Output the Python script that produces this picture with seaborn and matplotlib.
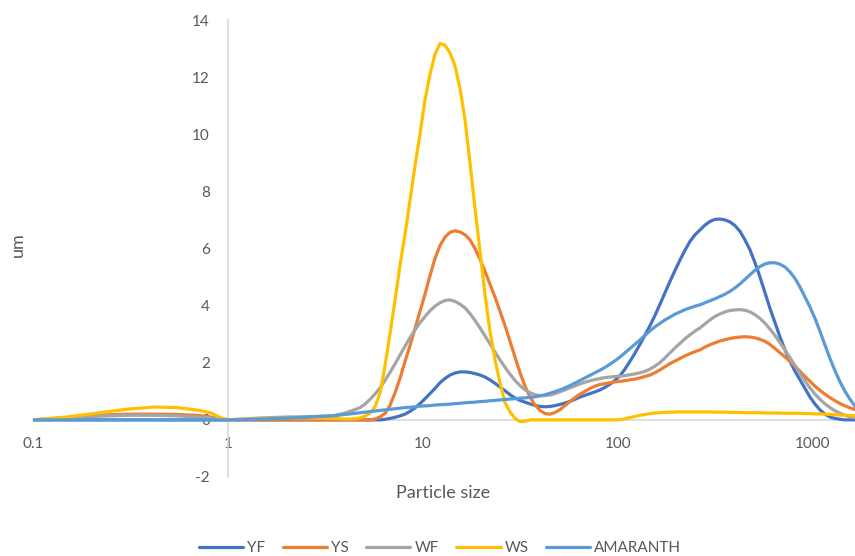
import matplotlib
matplotlib.use("Agg")
import matplotlib.pyplot as plt
import matplotlib.ticker as mticker
import seaborn as sns
import pandas as pd
from matplotlib.lines import Line2D

# ---- data ----
size = [0.1, 0.149, 0.221, 0.3, 0.42, 0.55, 0.718, 0.81, 0.93, 1.0, 1.5, 2.0, 2.5, 3.0, 3.5,
        3.75, 3.98, 4.22, 4.48, 4.75, 5.04, 5.35, 5.67, 6.02, 6.39, 6.77, 7.19, 7.62, 8.09,
        8.58, 9.10, 9.65, 10.24, 10.86, 11.52, 12.22, 12.97, 13.76, 14.59, 15.48, 16.43,
        17.42, 18.48, 19.61, 20.79, 22.06, 23.40, 24.83, 26.34, 27.94, 29.64, 31.44, 33.36,
        35.38, 37.54, 39.81, 42.23, 44.80, 47.53, 50.42, 53.49, 56.74, 60.19, 63.86, 67.74,
        71.86, 76.23, 80.87,
        85.8, 91.0, 96.5, 102.4, 108.6, 115.2, 122.3, 129.7, 137.6, 145.9, 154.8, 164.2,
        174.2, 184.8, 196.0, 208.0, 220.6, 234.0, 248.3,
        263.4, 279.3, 296.4, 314.4, 333.6, 353.8, 375.4, 398.1, 422.3, 448.0, 475.3, 504.2,
        534.9, 567.4, 601.9, 638.6, 677.4, 718.6, 762.3, 808.7, 857.9, 910.0, 965.2, 1024,
        1086, 1152, 1222, 1297, 1376, 1459, 1548, 1642]

yf = [0] * 15 + [0] * 8 + [
    0, 0.02, 0.05, 0.09, 0.14, 0.2, 0.3, 0.42, 0.57, 0.74, 0.92, 1.1, 1.3, 1.45, 1.57,
    1.64, 1.68, 1.68, 1.66, 1.62, 1.57, 1.5, 1.4, 1.28, 1.15, 1.02, 0.88, 0.77, 0.68,
    0.62, 0.56, 0.51, 0.47, 0.46, 0.47, 0.5, 0.54, 0.59, 0.65, 0.72, 0.8, 0.86, 0.92,
    0.98, 1.05,
    1.14, 1.25, 1.38, 1.55, 1.78, 2.05, 2.34, 2.65, 2.97, 3.3, 3.66, 4.05, 4.45, 4.85,
    5.23, 5.6, 5.94, 6.25, 6.48,
    6.65, 6.82, 6.95, 7.02, 7.03, 7.0, 6.93, 6.8, 6.6, 6.3, 5.95, 5.5, 5.0, 4.45, 3.9,
    3.4, 2.9, 2.45, 2.05, 1.7, 1.4, 1.1, 0.8, 0.55, 0.35, 0.2, 0.1, 0.05, 0.02, 0, 0, 0]

ys = [0, 0.08, 0.17, 0.2, 0.2, 0.19, 0.15, 0.1, 0.04, 0, 0, 0, 0, 0, 0] + [0] * 7 + [
    0.03, 0.1, 0.23, 0.5, 0.95, 1.45, 2.05, 2.6, 3.2, 3.8, 4.4, 5.05, 5.65, 6.1, 6.4,
    6.57, 6.62, 6.58, 6.48, 6.3, 6.0, 5.62, 5.2, 4.75, 4.3, 3.8, 3.3, 2.75, 2.2, 1.65,
    1.18, 0.8, 0.52, 0.33, 0.22, 0.2, 0.26, 0.36, 0.5, 0.64, 0.78, 0.9, 1.0, 1.1, 1.18,
    1.24,
    1.27, 1.3, 1.33, 1.35, 1.37, 1.4, 1.43, 1.47, 1.52, 1.57, 1.65, 1.75, 1.86, 1.97,
    2.06, 2.15, 2.24, 2.32, 2.39,
    2.45, 2.55, 2.63, 2.7, 2.76, 2.81, 2.85, 2.88, 2.9, 2.91, 2.9, 2.87, 2.82, 2.75, 2.64,
    2.5, 2.35, 2.2, 2.05, 1.88, 1.7, 1.52, 1.35, 1.18, 1.03, 0.9, 0.78, 0.67, 0.57, 0.49,
    0.42, 0.36]

wf = [0, 0.07, 0.13, 0.16, 0.16, 0.14, 0.1, 0.07, 0.03, 0, 0.07, 0.1, 0.11, 0.13, 0.15,
      0.2, 0.24, 0.3, 0.36, 0.43, 0.55, 0.72, 0.9, 1.12, 1.38,
      1.66, 1.96, 2.27, 2.58, 2.88, 3.15, 3.4, 3.62, 3.82, 3.98,
      4.1, 4.18, 4.2, 4.15, 4.05, 3.92, 3.72, 3.48, 3.22, 2.94,
      2.66, 2.38, 2.1, 1.84, 1.6, 1.38, 1.2, 1.05, 0.95, 0.88,
      0.85, 0.85, 0.87, 0.92, 0.98, 1.05, 1.12, 1.19, 1.26, 1.32,
      1.37, 1.41, 1.45,
      1.48, 1.5, 1.52, 1.53, 1.55, 1.58, 1.61, 1.65, 1.7, 1.78, 1.88, 2.01, 2.17, 2.35,
      2.52, 2.68, 2.84, 2.98, 3.11,
      3.22, 3.36, 3.5, 3.62, 3.71, 3.78, 3.83, 3.85, 3.86, 3.84, 3.78, 3.68, 3.55, 3.38,
      3.18, 2.95, 2.7, 2.45, 2.18, 1.9, 1.62, 1.36, 1.12, 0.9, 0.72, 0.56, 0.43, 0.32,
      0.23, 0.16, 0.11, 0.08]

ws = [0, 0.1, 0.25, 0.37, 0.45, 0.43, 0.33, 0.25, 0.06, 0, 0.05, 0.06, 0.07, 0.06, 0.05,
      0.04, 0.03, 0.03, 0.04, 0.07, 0.13, 0.24, 0.45, 0.94, 1.9,
      3.0, 4.2, 5.4, 6.5, 7.7, 8.9, 10.0, 11.2, 12.1, 12.8,
      13.18, 13.12, 12.85, 12.4, 11.6, 10.5, 9.0, 7.4, 5.9, 4.4,
      3.1, 2.1, 1.3, 0.6, 0.28, 0.05, -0.06, -0.05, 0, 0,
      0, 0, 0, 0, 0, 0, 0, 0, 0, 0,
      0, 0, 0,
      0, 0, 0, 0.01, 0.04, 0.08, 0.12, 0.16, 0.19, 0.22, 0.24, 0.25, 0.26, 0.27,
      0.275, 0.28, 0.28, 0.28, 0.28,
      0.28, 0.28, 0.28, 0.27, 0.27, 0.27, 0.26, 0.26, 0.26, 0.25, 0.25, 0.25, 0.25, 0.24,
      0.24, 0.24, 0.24, 0.23, 0.23, 0.23, 0.23, 0.22, 0.22, 0.21, 0.21, 0.2, 0.19, 0.18,
      0.17, 0.16, 0.15, 0.14]

amaranth = [0, 0, 0, 0, 0, 0, 0, 0, 0, 0, 0.03, 0.06, 0.09, 0.12, 0.14,
            0.17, 0.19, 0.21, 0.23, 0.25, 0.27, 0.29, 0.31, 0.33, 0.35,
            0.37, 0.39, 0.41, 0.43, 0.44, 0.46, 0.48, 0.49, 0.5, 0.52,
            0.53, 0.54, 0.55, 0.57, 0.58, 0.6, 0.61, 0.62, 0.64, 0.65,
            0.67, 0.68, 0.7, 0.71, 0.73, 0.74, 0.76, 0.77, 0.79, 0.81,
            0.84, 0.88, 0.93, 0.99, 1.05, 1.12, 1.2, 1.29, 1.38, 1.47,
            1.56, 1.65, 1.74,
            1.84, 1.95, 2.07, 2.2, 2.35, 2.5, 2.65, 2.8, 2.96, 3.12, 3.26, 3.38, 3.5, 3.6,
            3.7, 3.78, 3.86, 3.92, 3.98,
            4.03, 4.1, 4.17, 4.24, 4.32, 4.4, 4.5, 4.62, 4.76, 4.92, 5.08, 5.24, 5.37, 5.46,
            5.5, 5.5, 5.45, 5.35, 5.18, 4.95, 4.65, 4.3, 3.95, 3.55, 3.1, 2.62, 2.15, 1.72,
            1.33, 1.0, 0.72, 0.48]

series_names = ["YF", "YS", "WF", "WS", "AMARANTH"]
series_colors = ["#4472C4", "#ED7D31", "#A5A5A5", "#FFC000", "#5B9BD5"]
x_ticks = [0.1, 1, 10, 100, 1000]
x_tick_labels = ["0.1", "1", "10", "100", "1000"]
y_ticks = [-2, 0, 2, 4, 6, 8, 10, 12, 14]

frames = []
for name, vals in zip(series_names, [yf, ys, wf, ws, amaranth]):
    frames.append(pd.DataFrame({"size": size, "value": vals, "series": name}))
df = pd.concat(frames, ignore_index=True)

sns.set_theme(style="white")
plt.rcParams["font.family"] = ["Lato", "DejaVu Sans"]
text_color = "#595959"
axis_color = "#D9D9D9"

fig = plt.figure(figsize=(8.55, 5.56), dpi=100)
ax = fig.add_axes([33 / 855, 1 - 477 / 556, 822 / 855, 457 / 556])

sns.lineplot(data=df, x="size", y="value", hue="series", hue_order=series_names,
             palette=series_colors, estimator=None, sort=True, linewidth=2.3,
             legend=False, ax=ax, zorder=3)
for ln in ax.get_lines():
    ln.set_solid_joinstyle("round")
    ln.set_solid_capstyle("round")

ax.set_xscale("log")
ax.set_xlim(0.1, 1642)
ax.set_ylim(-2, 14)
ax.set_xticks(x_ticks)
ax.set_xticklabels(x_tick_labels)
ax.xaxis.set_minor_locator(mticker.NullLocator())
ax.set_yticks(y_ticks)
ax.set_yticklabels([str(t) for t in y_ticks])

for side in ["top", "right"]:
    ax.spines[side].set_visible(False)
ax.spines["left"].set_position(("data", 1))
ax.spines["bottom"].set_position(("data", 0))
for side in ["left", "bottom"]:
    ax.spines[side].set_color(axis_color)
    ax.spines[side].set_linewidth(1.2)
    ax.spines[side].set_zorder(1)

ax.tick_params(axis="both", length=0, labelsize=11, labelcolor=text_color)
ax.tick_params(axis="y", pad=13)
ax.tick_params(axis="x", pad=12)

ax.set_xlabel("Particle size", fontsize=13, color=text_color, va="center")
ax.xaxis.set_label_coords((443 - 33) / 822, (477 - 493) / 457)
ax.set_ylabel("um", fontsize=13, color=text_color, va="center")
ax.yaxis.set_label_coords((18 - 33) / 822, (477 - 245) / 457)

handles = [Line2D([0], [0], color=c, lw=2.3) for c in series_colors]
fig.legend(handles, series_names, loc="center", bbox_to_anchor=(440 / 855, 1 - 548 / 556),
           ncol=5, frameon=False, fontsize=11, labelcolor=text_color,
           handlelength=2.9, handletextpad=0.25, columnspacing=1.15)

fig.savefig("out.png", dpi=100)
